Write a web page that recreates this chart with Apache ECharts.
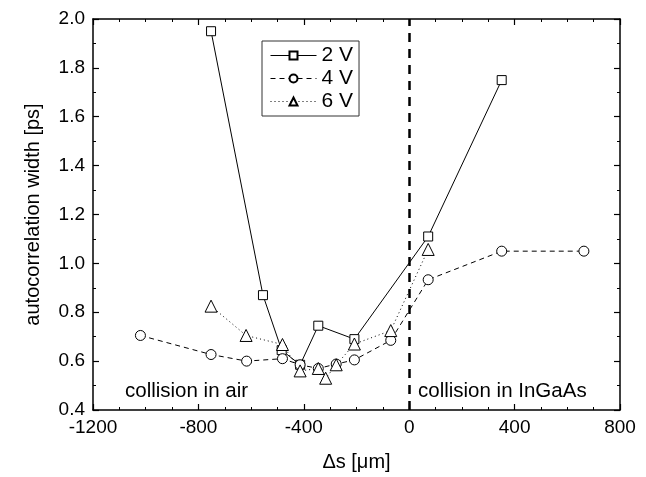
<!DOCTYPE html>
<html lang="en">
<head>
  <meta charset="UTF-8">
  <title>autocorrelation width</title>
  <script src="https://cdn.jsdelivr.net/npm/echarts@6/dist/echarts.min.js"></script>
</head>
<body style="margin:0;background:#fff;">
  <div id="main" style="width:646px;height:477px;"></div>
  <script>
    // data: [delta s (um), width (ps)]
    var v2 = [[-752, 1.95], [-555, 0.87], [-484, 0.645], [-414, 0.585], [-345, 0.745], [-208, 0.69], [72, 1.11], [351, 1.75]];
    var v4 = [[-1020, 0.705], [-752, 0.627], [-617, 0.6], [-481, 0.61], [-414, 0.585], [-345, 0.57], [-277, 0.588], [-208, 0.605], [-70, 0.685], [72, 0.933], [351, 1.05], [663, 1.05]];
    var v6 = [[-752, 0.825], [-619, 0.705], [-481, 0.668], [-414, 0.56], [-345, 0.57], [-317, 0.53], [-277, 0.585], [-208, 0.67], [-70, 0.725], [72, 1.057]];
    var seriesNames = ['2 V', '4 V', '6 V'];

    var font = 'Liberation Sans, Arial, sans-serif';
    var chart = echarts.init(document.getElementById('main'));

    function mkSeries(name, data, symbol, size, lineType) {
      return {
        name: name,
        type: 'line',
        data: data,
        symbol: symbol,
        symbolSize: size,
        showAllSymbol: true,
        animation: false,
        lineStyle: { color: '#000', width: 1, type: lineType },
        itemStyle: { color: '#fff', borderColor: '#000', borderWidth: 1 },
        emphasis: { disabled: true },
        z: 3
      };
    }

    var option = {
      backgroundColor: '#fff',
      animation: false,
      grid: { left: 93, right: 26, top: 19, bottom: 63 },
      legend: {
        orient: 'vertical',
        left: 262,
        top: 41,
        padding: [4, 6, 4, 8],
        itemGap: 2,
        itemWidth: 46,
        itemHeight: 10,
        borderColor: '#333',
        borderWidth: 1,
        backgroundColor: '#fff',
        lineStyle: { width: 1 },
        textStyle: { fontFamily: font, fontSize: 21, color: '#000' },
        data: seriesNames
      },
      xAxis: [{
        type: 'value', min: -1200, max: 800, interval: 400,
        name: 'Δs [μm]', nameLocation: 'middle', nameGap: 42,
        nameTextStyle: { fontFamily: font, fontSize: 20, color: '#000' },
        axisLine: { onZero: false, lineStyle: { color: '#000', width: 1.5 } },
        axisTick: { inside: true, length: 6, lineStyle: { color: '#000', width: 1.2 } },
        minorTick: { show: true, splitNumber: 4, length: 3, lineStyle: { color: '#000' } },
        axisLabel: {
          fontFamily: font, fontSize: 19, color: '#000', margin: 8,
          formatter: function (v) { return String(v); }
        },
        splitLine: { show: false }
      }, {
        type: 'value', min: -1200, max: 800, interval: 400, position: 'top',
        axisLine: { onZero: false, lineStyle: { color: '#000', width: 1.5 } },
        axisTick: { inside: true, length: 6, lineStyle: { color: '#000', width: 1.2 } },
        minorTick: { show: true, splitNumber: 4, length: 3, lineStyle: { color: '#000' } },
        axisLabel: { show: false },
        splitLine: { show: false }
      }],
      yAxis: [{
        type: 'value', min: 0.4, max: 2.0, interval: 0.2,
        name: 'autocorrelation width [ps]', nameLocation: 'middle', nameGap: 50,
        nameTextStyle: { fontFamily: font, fontSize: 20, color: '#000' },
        axisLine: { show: true, onZero: false, lineStyle: { color: '#000', width: 1.5 } },
        axisTick: { show: true, inside: true, length: 6, lineStyle: { color: '#000', width: 1.2 } },
        minorTick: { show: true, splitNumber: 2, length: 3, lineStyle: { color: '#000' } },
        axisLabel: {
          fontFamily: font, fontSize: 19, color: '#000', margin: 8,
          formatter: function (v) { return v.toFixed(1); }
        },
        splitLine: { show: false }
      }, {
        type: 'value', min: 0.4, max: 2.0, interval: 0.2, position: 'right',
        axisLine: { show: true, onZero: false, lineStyle: { color: '#000', width: 1.5 } },
        axisTick: { show: true, inside: true, length: 6, lineStyle: { color: '#000', width: 1.2 } },
        minorTick: { show: true, splitNumber: 2, length: 3, lineStyle: { color: '#000' } },
        axisLabel: { show: false },
        splitLine: { show: false }
      }],
      graphic: [
        { type: 'text', left: 125, top: 381, style: { text: 'collision in air', font: '20.5px ' + font, fill: '#000' } },
        { type: 'text', left: 418, top: 381, style: { text: 'collision in InGaAs', font: '20.5px ' + font, fill: '#000' } }
      ],
      series: [
        (function () {
          var s = mkSeries(seriesNames[0], v2, 'rect', 9, 'solid');
          s.markLine = {
            silent: true, symbol: 'none', animation: false,
            label: { show: false },
            lineStyle: { color: '#000', width: 2.5, type: [9, 7] },
            emphasis: { disabled: true },
            data: [{ xAxis: 0 }]
          };
          return s;
        })(),
        mkSeries(seriesNames[1], v4, 'circle', 10, [5, 4]),
        mkSeries(seriesNames[2], v6, 'triangle', 12, [1, 3])
      ]
    };

    chart.setOption(option);
  </script>
</body>
</html>
